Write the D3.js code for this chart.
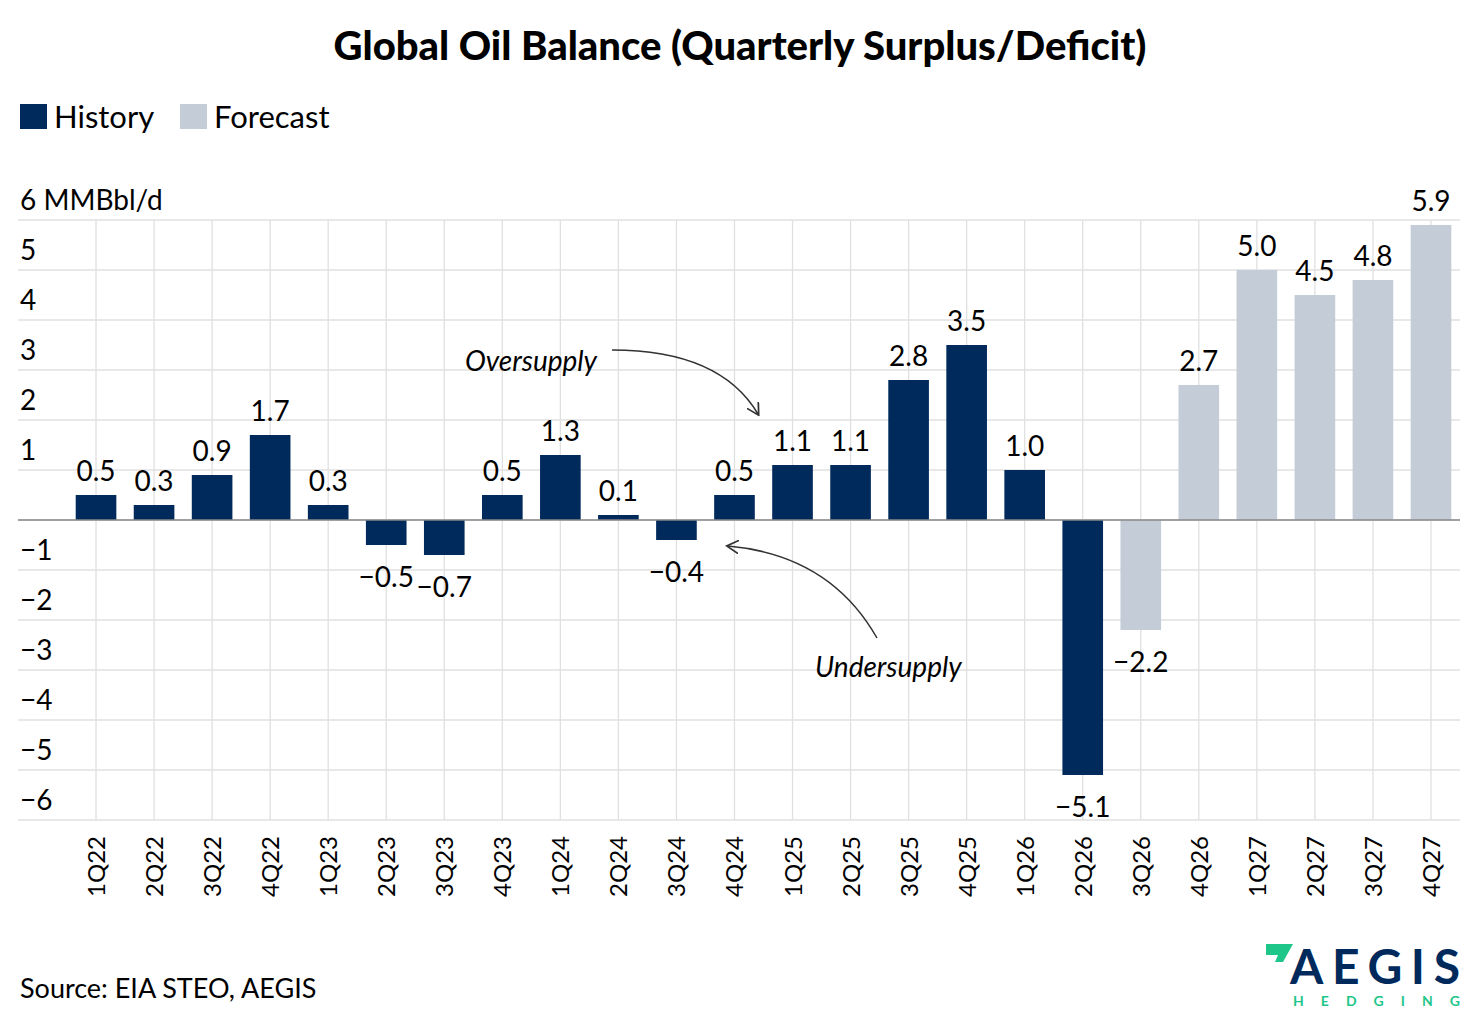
<!DOCTYPE html>
<html><head><meta charset="utf-8">
<script src="https://cdn.jsdelivr.net/npm/d3@7"></script>
<style>body{margin:0;background:#fff;font-family:Lato,sans-serif}</style>
</head><body>
<svg id="chart" width="1480" height="1026"></svg>
<script>
const quarters = ["1Q22","2Q22","3Q22","4Q22","1Q23","2Q23","3Q23","4Q23","1Q24","2Q24","3Q24","4Q24",
  "1Q25","2Q25","3Q25","4Q25","1Q26","2Q26","3Q26","4Q26","1Q27","2Q27","3Q27","4Q27"];
const balance = [0.5,0.3,0.9,1.7,0.3,-0.5,-0.7,0.5,1.3,0.1,-0.4,0.5,1.1,1.1,2.8,3.5,1.0,-5.1,-2.2,2.7,5.0,4.5,4.8,5.9];
const isForecast = [0,0,0,0,0,0,0,0,0,0,0,0,0,0,0,0,0,0,1,1,1,1,1,1];
const yTicks = [-6,-5,-4,-3,-2,-1,0,1,2,3,4,5,6];

const navy = "#002a5c", grey = "#c3ccd7";
const svg = d3.select("#chart");
const left = 18, right = 1460;
const x = d3.scaleBand().domain(quarters).range([67, 1460]).paddingInner(0.3).paddingOuter(0.15);
const y = d3.scaleLinear().domain([-6, 6]).range([820, 220]);
const fmt = v => (v < 0 ? "\u2212" : "") + Math.abs(v).toFixed(1);

svg.append("text").attr("x", 740).attr("y", 60).attr("text-anchor", "middle")
  .attr("font-size", 40).attr("font-weight", 900)
  .text("Global Oil Balance (Quarterly Surplus/Deficit)");

// legend
[["History", navy, 20], ["Forecast", grey, 180]].forEach(([t, c, lx]) => {
  svg.append("rect").attr("x", lx).attr("y", 104).attr("width", 27).attr("height", 25).attr("fill", c);
  svg.append("text").attr("x", lx + 34).attr("y", 128).attr("font-size", 31).text(t);
});

// grid
svg.append("g").selectAll("line").data(yTicks).join("line")
  .attr("x1", left).attr("x2", right).attr("y1", d => y(d)).attr("y2", d => y(d))
  .attr("stroke", "#e0e0e0").attr("stroke-width", 1.3);
svg.append("g").selectAll("line").data(quarters).join("line")
  .attr("x1", d => x(d) + x.bandwidth() / 2).attr("x2", d => x(d) + x.bandwidth() / 2)
  .attr("y1", y(6)).attr("y2", y(-6)).attr("stroke", "#e0e0e0").attr("stroke-width", 1.3);
svg.append("g").selectAll("text").data(yTicks).join("text")
  .attr("x", 20).attr("y", d => y(d) - 10).attr("font-size", 28)
  .text(d => d === 6 ? "6 MMBbl/d" : d === 0 ? "" : (d < 0 ? "\u2212" + (-d) : d));

// bars
svg.append("g").selectAll("rect").data(quarters).join("rect")
  .attr("x", d => x(d)).attr("width", x.bandwidth())
  .attr("y", (d, i) => y(Math.max(0, balance[i])))
  .attr("height", (d, i) => Math.abs(y(balance[i]) - y(0)))
  .attr("fill", (d, i) => isForecast[i] ? grey : navy);
svg.append("line").attr("x1", left).attr("x2", right).attr("y1", y(0)).attr("y2", y(0))
  .attr("stroke", "#888").attr("stroke-width", 1.5);

// value labels
svg.append("g").selectAll("text").data(quarters).join("text")
  .attr("x", d => x(d) + x.bandwidth() / 2)
  .attr("y", (d, i) => balance[i] >= 0 ? y(balance[i]) - 14 : y(balance[i]) + 42)
  .attr("text-anchor", "middle").attr("font-size", 28)
  .text((d, i) => fmt(balance[i]));

// x labels
svg.append("g").selectAll("text").data(quarters).join("text")
  .attr("transform", d => `translate(${x(d) + x.bandwidth() / 2 + 9},836) rotate(-90)`)
  .attr("text-anchor", "end").attr("font-size", 24).text(d => d);

// annotations
const defs = svg.append("defs");
defs.append("marker").attr("id", "ah").attr("viewBox", "0 0 10 10").attr("refX", 8).attr("refY", 5)
  .attr("markerWidth", 9).attr("markerHeight", 9).attr("orient", "auto")
  .append("path").attr("d", "M0,0 L9,5 L0,10").attr("fill", "none").attr("stroke", "#333").attr("stroke-width", 1.3);
svg.append("text").attr("x", 465).attr("y", 371).attr("font-size", 28).attr("font-style", "italic").text("Oversupply");
svg.append("path").attr("d", "M612,350 Q720,350 758,414").attr("fill", "none").attr("stroke", "#333")
  .attr("stroke-width", 1.5).attr("marker-end", "url(#ah)");
svg.append("text").attr("x", 815).attr("y", 677).attr("font-size", 28).attr("font-style", "italic").text("Undersupply");
svg.append("path").attr("d", "M877,638 Q830,555 728,546").attr("fill", "none").attr("stroke", "#333")
  .attr("stroke-width", 1.5).attr("marker-end", "url(#ah)");

svg.append("text").attr("x", 20).attr("y", 998).attr("font-size", 27).text("Source: EIA STEO, AEGIS");

// logo
svg.append("path").attr("d", "M1266,944 L1293,944 L1283,962 L1275,962 L1278,955 L1266,955 Z").attr("fill", "#1ec68a");
svg.append("text").attr("x", 1290).attr("y", 984).attr("font-size", 48)
  .attr("font-weight", "bold").attr("fill", navy).attr("textLength", 170).text("AEGIS");
svg.append("text").attr("x", 1293).attr("y", 1006).attr("font-size", 14)
  .attr("font-weight", "bold").attr("fill", "#1ec68a").attr("textLength", 167).text("HEDGING");
</script>
</body></html>
